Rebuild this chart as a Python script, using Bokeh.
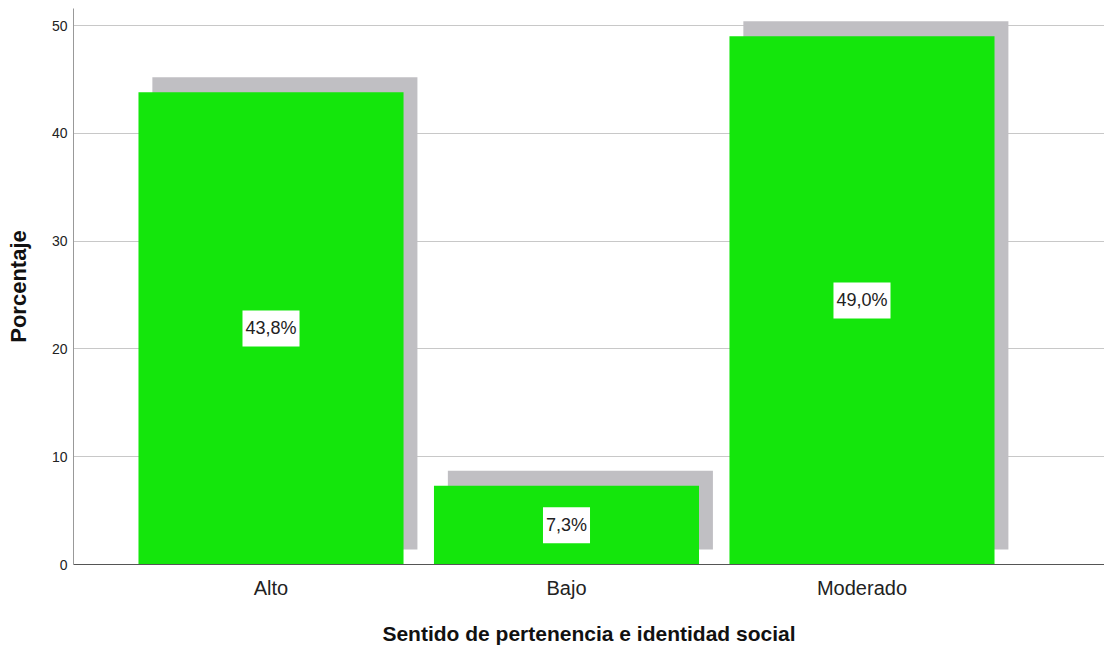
from bokeh.plotting import figure
from bokeh.models import ColumnDataSource, Range1d, FixedTicker
from bokeh.core.properties import value
from bokeh.embed import file_html
from bokeh.resources import INLINE

# ---- data ----
categories = ["Alto", "Bajo", "Moderado"]
percentages = [43.8, 7.3, 49.0]
value_labels = ["43,8%", "7,3%", "49,0%"]
y_ticks = [0, 10, 20, 30, 40, 50]

# ---- styling / geometry ----
BAR_W = 0.897
SHADOW_DX = 0.047
SHADOW_DY = 1.4
GREEN = "#14e60c"
SHADOW = "#c0bfc3"
FONT = "Liberation Sans"

xs = [i + 1 for i in range(len(categories))]
src = ColumnDataSource(dict(
    x=xs,
    top=percentages,
    left=[x - BAR_W / 2 for x in xs],
    right=[x + BAR_W / 2 for x in xs],
    s_left=[x - BAR_W / 2 + SHADOW_DX for x in xs],
    s_right=[x + BAR_W / 2 + SHADOW_DX for x in xs],
    s_top=[v + SHADOW_DY for v in percentages],
    mid=[v / 2 for v in percentages],
    lab=value_labels,
))

p = figure(width=1104, height=649, output_backend="svg", toolbar_location=None,
           x_range=Range1d(0.3316, 3.8207), y_range=Range1d(0, 51.58),
           min_border_left=73, min_border_right=0, min_border_top=8, min_border_bottom=85)
p.outline_line_color = None
p.background_fill_color = "white"

# shadows
p.quad(left="s_left", right="s_right", bottom=SHADOW_DY, top="s_top", source=src,
       fill_color=SHADOW, line_color=None)
# bars
p.quad(left="left", right="right", bottom=0, top="top", source=src,
       fill_color=GREEN, line_color=None)
# value labels
p.text(x="x", y="mid", text="lab", source=src, text_align="center", text_baseline="middle",
       text_font=value(FONT), text_font_size="18px", text_color="#222222",
       background_fill_color="white", padding=dict(left=3, right=3, top=8, bottom=8))

# axes
p.xaxis.ticker = FixedTicker(ticks=xs)
p.xaxis.major_label_overrides = {x: c for x, c in zip(xs, categories)}
p.yaxis.ticker = FixedTicker(ticks=y_ticks)

p.xgrid.grid_line_color = None
p.ygrid.grid_line_color = "#c8c8c8"
p.ygrid.grid_line_width = 1

for ax in (p.xaxis[0], p.yaxis[0]):
    ax.major_tick_in = 0
    ax.major_tick_out = 0
    ax.minor_tick_in = 0
    ax.minor_tick_out = 0
    ax.major_label_text_font = FONT
    ax.major_label_text_color = "#222222"
    ax.axis_label_text_font = FONT
    ax.axis_label_text_font_style = "bold"
    ax.axis_label_text_color = "#111111"

p.xaxis.axis_line_color = "#555555"
p.yaxis.axis_line_color = "#999999"
p.xaxis.major_label_text_font_size = "20px"
p.yaxis.major_label_text_font_size = "14px"
p.xaxis.axis_label_text_font_size = "21px"
p.yaxis.axis_label_text_font_size = "22px"
p.xaxis.major_label_standoff = 12
p.yaxis.major_label_standoff = 6
p.xaxis.axis_label = "Sentido de pertenencia e identidad social"
p.yaxis.axis_label = "Porcentaje"
p.xaxis.axis_label_standoff = 20
p.yaxis.axis_label_standoff = 18

open("out.html", "w").write(file_html(p, INLINE))
